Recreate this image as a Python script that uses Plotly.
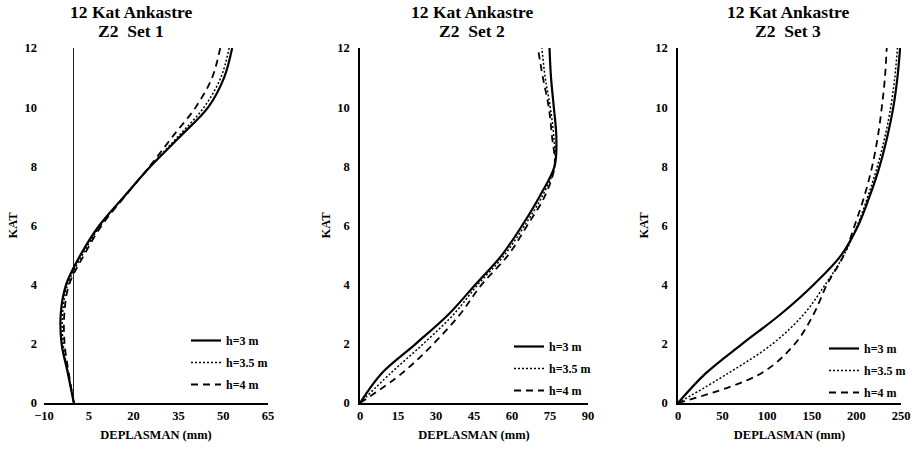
import plotly.graph_objects as go

floors = list(range(13))
series_names = ["h=3 m", "h=3.5 m", "h=4 m"]

set1_h3 = [0, -2.0, -4.1, -4.4, -2.6, 2.2, 8.5, 17.0, 25.7, 35.5, 45.0, 50.3, 53.0]
set1_h35 = [0, -1.9, -3.6, -3.8, -2.1, 2.8, 8.9, 17.0, 25.6, 34.8, 43.6, 49.2, 52.0]
set1_h4 = [0, -1.7, -3.1, -3.2, -1.6, 3.4, 9.3, 17.2, 25.4, 33.0, 40.8, 46.3, 49.0]

set2_h3 = [0, 8.5, 22.0, 35.0, 45.5, 56.0, 64.0, 71.0, 76.8, 77.5, 76.5, 75.4, 74.8]
set2_h35 = [0, 12.0, 25.0, 37.0, 46.5, 57.0, 65.0, 72.0, 76.8, 76.5, 75.1, 73.1, 71.8]
set2_h4 = [0, 16.5, 29.0, 39.5, 48.0, 58.5, 66.0, 73.0, 76.8, 75.8, 74.5, 72.2, 70.2]

set3_h3 = [0, 31, 72, 115, 152, 183, 202, 215, 226, 234.6, 241.4, 246, 249]
set3_h35 = [0, 56, 106, 141, 165, 186, 201, 213, 223.5, 232, 238.5, 243, 246]
set3_h4 = [0, 93, 131, 152, 167, 186, 198, 209, 217.7, 224, 228.5, 232, 234]

x_ranges = [[-10, 65], [0, 90], [0, 250]]
x_ticks = [[-10, 5, 20, 35, 50, 65], [0, 15, 30, 45, 60, 75, 90], [0, 50, 100, 150, 200, 250]]
y_ticks = [0, 2, 4, 6, 8, 10, 12]
title_line1 = ["12 Kat Ankastre", "12 Kat Ankastre", "12 Kat Ankastre"]
title_line2 = ["Z2  Set 1", "Z2  Set 2", "Z2  Set 3"]
x_title = "DEPLASMAN (mm)"
y_title = "KAT"

data = [[set1_h3, set1_h35, set1_h4], [set2_h3, set2_h35, set2_h4], [set3_h3, set3_h35, set3_h4]]

W, H = 917, 452
FONT = "Liberation Serif, Times New Roman, serif"

# pixel layout of plot areas
px_x = [(44, 268), (360, 588), (678, 901)]
px_y = (48, 403)
title_cx = [131, 472, 788]
title_cy = [12, 31]
legend_pos = [(186, 326), (509, 332), (824, 334)]

styles = [
    dict(color="black", width=2.2, dash="solid"),
    dict(color="black", width=1.5, dash="2px,2px"),
    dict(color="black", width=1.8, dash="7px,5px"),
]

fig = go.Figure()
for i in range(3):
    xa = "x" if i == 0 else f"x{i+1}"
    ya = "y" if i == 0 else f"y{i+1}"
    lg = "legend" if i == 0 else f"legend{i+1}"
    for j in range(3):
        fig.add_trace(go.Scatter(
            x=data[i][j], y=floors, mode="lines", name=series_names[j],
            line=dict(shape="spline", smoothing=1.0, **styles[j]),
            xaxis=xa, yaxis=ya, legend=lg, showlegend=True,
            legendgroup=f"p{i}_s{j}",
        ))

layout = dict(
    width=W, height=H, margin=dict(l=0, r=0, t=0, b=0, autoexpand=False),
    paper_bgcolor="white", plot_bgcolor="white",
    font=dict(family=FONT, color="black"),
    showlegend=True,
)
tickfont = dict(family=FONT, size=12.5, color="black", weight="bold")
for i in range(3):
    sfx = "" if i == 0 else str(i + 1)
    x0, x1 = px_x[i]
    layout["xaxis" + sfx] = dict(
        domain=[x0 / W, x1 / W], anchor="y" + sfx, range=x_ranges[i],
        tickvals=x_ticks[i], ticks="", showgrid=False, automargin=False,
        showline=True, linecolor="black", linewidth=1.5,
        zeroline=(i == 0), zerolinecolor="#222", zerolinewidth=1,
        tickfont=tickfont,
        title=dict(text=x_title, font=dict(family=FONT, size=12.5, color="black", weight="bold"), standoff=8),
    )
    layout["yaxis" + sfx] = dict(
        domain=[1 - px_y[1] / H, 1 - px_y[0] / H], anchor="x" + sfx, range=[0, 12],
        tickvals=y_ticks, ticks="", showgrid=False, automargin=False,
        showline=(i != 0), linecolor="black", linewidth=1.5,
        zeroline=False, tickfont=tickfont, ticklabelstandoff=6,
        title=dict(text=y_title, font=dict(family=FONT, size=12.5, color="black", weight="bold"), standoff=4),
    )
    lname = "legend" if i == 0 else f"legend{i+1}"
    lx, ly = legend_pos[i]
    layout[lname] = dict(
        x=lx / W, y=1 - ly / H, xanchor="left", yanchor="top",
        xref="paper", yref="paper",
        bgcolor="rgba(0,0,0,0)", borderwidth=0,
        font=dict(family=FONT, size=12, color="black", weight="bold"),
        tracegroupgap=3,
    )
fig.update_layout(**layout)

for i in range(3):
    for k, txt in enumerate([title_line1[i], title_line2[i]]):
        fig.add_annotation(
            text=txt, xref="paper", yref="paper", x=title_cx[i] / W, y=1 - title_cy[k] / H,
            xanchor="center", yanchor="middle", showarrow=False,
            font=dict(family=FONT, size=17.5, color="black", weight="bold"),
        )

fig.write_html("out.html", config={"displayModeBar": False},
               post_script="document.body.style.margin='0px';")
